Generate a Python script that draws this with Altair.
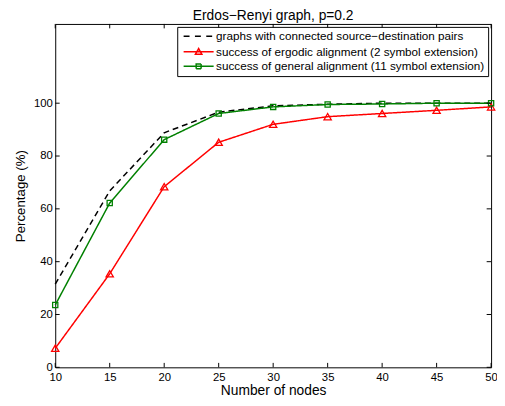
import altair as alt
import pandas as pd

# ---- data ----
nodes = [10, 15, 20, 25, 30, 35, 40, 45, 50]
connected = [31.5, 66.8, 88.8, 96.6, 99.0, 99.6, 100.0, 100.0, 100.0]
ergodic = [7.2, 35.4, 68.4, 85.2, 92.0, 94.9, 96.1, 97.3, 98.6]
general = [23.6, 62.2, 86.2, 96.1, 98.6, 99.5, 99.7, 100.0, 100.0]

series_names = [
    "graphs with connected source\u2212destination pairs",
    "success of ergodic alignment (2 symbol extension)",
    "success of general alignment (11 symbol extension)",
]
series_colors = ["#000000", "#ff0000", "#008000"]
series_dash = [[6, 4], [1, 0], [1, 0]]
legend_paths = [
    "M-0.6,0H0.9M1.7,0H3.2M4,0H5.5",
    "M-0.6,0H5.5M2.45,-0.65L3.1,0.5L1.8,0.5Z",
    "M-0.6,0H5.5M1.95,-0.5H2.95V0.5H1.95Z",
]
x_ticks = [10, 15, 20, 25, 30, 35, 40, 45, 50]
y_ticks = [0, 20, 40, 60, 80, 100]

rows = []
for name, vals in zip(series_names, [connected, ergodic, general]):
    for n, v in zip(nodes, vals):
        rows.append({"nodes": n, "pct": v, "series": name})
df = pd.DataFrame(rows)

W, H = 443, 349
TK = 4.5
FONT = "Liberation Sans"

xs = alt.Scale(domain=[10, 50], nice=False, zero=False)
ys = alt.Scale(domain=[0, 130], nice=False, zero=False)
cscale = alt.Scale(domain=series_names, range=series_colors)
xax = alt.Axis(values=x_ticks, title="Number of nodes", titlePadding=1,
               labelFlush=False, titleFontSize=14)
yax = alt.Axis(values=y_ticks, title="Percentage (%)", titlePadding=6, labelPadding=3)

leg = dict(title=None, orient="top-right", offset=3, strokeColor="black",
           fillColor="white", padding=3.5, labelFont=FONT, labelFontSize=11.9,
           labelColor="black", labelLimit=500, symbolSize=100,
           symbolStrokeWidth=1.5, labelOffset=24, rowPadding=2.8,
           symbolOpacity=1)

base = alt.Chart(df)

lines = base.mark_line(strokeWidth=1.5).encode(
    x=alt.X("nodes:Q", scale=xs, axis=xax),
    y=alt.Y("pct:Q", scale=ys, axis=yax),
    color=alt.Color("series:N", scale=cscale, legend=alt.Legend(**leg)),
    strokeDash=alt.StrokeDash("series:N",
                              scale=alt.Scale(domain=series_names, range=series_dash),
                              legend=None),
)

red_pts = base.transform_filter(alt.datum.series == series_names[1]).mark_point(
    shape="triangle-up", size=55, color="#ff0000", filled=False, opacity=1, strokeWidth=1.3
).encode(x=alt.X("nodes:Q", scale=xs, axis=xax), y=alt.Y("pct:Q", scale=ys, axis=yax))

green_pts = base.transform_filter(alt.datum.series == series_names[2]).mark_point(
    shape="square", size=28, color="#008000", filled=False, opacity=1, strokeWidth=1.3
).encode(x=alt.X("nodes:Q", scale=xs, axis=xax), y=alt.Y("pct:Q", scale=ys, axis=yax))

legend_layer = base.transform_filter("false").mark_point(filled=False, opacity=1).encode(
    color=alt.Color("series:N", scale=cscale, legend=alt.Legend(**leg)),
    shape=alt.Shape("series:N",
                    scale=alt.Scale(domain=series_names, range=legend_paths),
                    legend=alt.Legend(**leg)),
)

yt = pd.DataFrame({"pct": y_ticks})
xt = pd.DataFrame({"nodes": x_ticks})
tick_style = dict(color="black", strokeWidth=1)
left_t = alt.Chart(yt).mark_rule(**tick_style).encode(
    y=alt.Y("pct:Q", scale=ys, axis=yax), x=alt.value(0), x2=alt.value(TK))
right_t = alt.Chart(yt).mark_rule(**tick_style).encode(
    y=alt.Y("pct:Q", scale=ys, axis=yax), x=alt.value(W - TK), x2=alt.value(W))
bot_t = alt.Chart(xt).mark_rule(**tick_style).encode(
    x=alt.X("nodes:Q", scale=xs, axis=xax), y=alt.value(H - TK), y2=alt.value(H))
top_t = alt.Chart(xt).mark_rule(**tick_style).encode(
    x=alt.X("nodes:Q", scale=xs, axis=xax), y=alt.value(0), y2=alt.value(TK))

chart = alt.layer(
    lines, red_pts, green_pts, legend_layer, left_t, right_t, bot_t, top_t
).properties(
    width=W, height=H,
    title=alt.TitleParams("Erdos\u2212Renyi graph, p=0.2", font=FONT, fontSize=14,
                          fontWeight="normal", color="black", offset=1),
    autosize=alt.AutoSizeParams(type="none"),
    padding={"left": 48, "top": 13, "right": 6, "bottom": 30},
).configure_view(
    stroke="black", strokeWidth=1
).configure_axis(
    domain=False, grid=False, ticks=False, tickSize=0, labelPadding=4,
    labelFont=FONT, labelFontSize=11.5, labelColor="black",
    titleFont=FONT, titleFontSize=13.5, titleFontWeight="normal", titleColor="black",
)

chart.save("out.html", embed_options={"renderer": "svg", "actions": False})
